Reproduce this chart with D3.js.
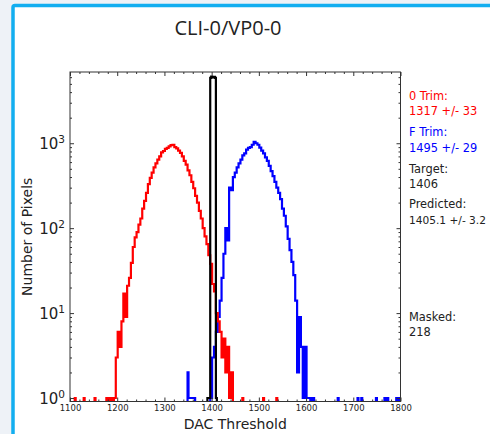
<!DOCTYPE html>
<html>
<head>
<meta charset="utf-8">
<script src="https://cdn.jsdelivr.net/npm/d3@7/dist/d3.min.js"></script>
<style>
  body { margin: 0; background: #eef2f7; }
  svg { display: block; }
</style>
</head>
<body>
<div id="chart"></div>
<script>
// axis ticks
let xTicks = [1100, 1200, 1300, 1400, 1500, 1600, 1700, 1800];
let yTicks = [1, 10, 100, 1000];

// histograms: counts per DAC unit, given as blocks of equal-width bins
let redStart = 1193, redWidth = 4;
let redCounts = [1, 3, 6, 4, 8, 17, 9, 21, 26, 39, 60, 78, 90, 110, 130, 170, 210, 260, 330, 390,
  450, 520, 580, 640, 700, 780, 810, 860, 880, 920, 950, 960, 900, 870, 820, 770, 700, 620, 560, 480,
  420, 350, 295, 240, 200, 160, 130, 100, 80, 65, 48, 38, 22, 18, 10, 8, 6, 3, 5, 2, 4, 1, 2];
let redSingles = [1110, 1129, 1152, 1177, 1181, 1187, 1465, 1509, 1537];

let blueStart = 1397, blueWidth = 4;
let blueCounts = [1, 3, 4, 6, 9, 14, 26, 50, 100, 72, 300, 280, 400, 450, 520, 580, 640, 720, 760, 840,
  880, 900, 960, 1040, 1000, 960, 890, 820, 760, 680, 620, 540, 470, 410, 350, 300, 260, 220, 170, 140,
  105, 75, 55, 40, 28, 14, 2, 9, 4, 1, 4, 1, 1, 0, 1];
let blueSideStart = 1349, blueSideWidth = 2;
let blueSideCounts = [2, 1, 1, 1, 1, 1, 1, 1];
let blueSingles = [1667, 1709, 1717, 1748, 1766, 1772, 1791, 1796];

let blackStart = 1391, blackWidth = 2;
let blackCounts = [1, 1, 1, 5900, 6100, 6000, 5950, 6050, 5900, 1];

// text on the right
let notes = [
  ['0 Trim:', 'red'], ['1317 +/- 33', 'red'],
  ['F Trim:', 'blue'], ['1495 +/- 29', 'blue'],
  ['Target:', 'black'], ['1406', 'black'],
  ['Predicted:', 'black'], ['1405.1 +/- 3.2', 'black'],
  ['Masked:', 'black'], ['218', 'black']
];
let noteY = [100, 115, 136, 152, 173, 188, 208, 224, 321, 336];

let width = 490, height = 434;
let plot = { left: 70, right: 400.5, top: 72, bottom: 401.5 };

let svg = d3.select('#chart').append('svg')
  .attr('width', width)
  .attr('height', height);

// page background and the blue card frame
svg.append('rect').attr('width', width).attr('height', height).attr('fill', '#eef2f7');
svg.append('rect')
  .attr('x', 13).attr('y', 5.5)
  .attr('width', 500).attr('height', 450)
  .attr('rx', 2)
  .attr('fill', 'white')
  .attr('stroke', '#12aef0')
  .attr('stroke-width', 3.5);

let xScale = d3.scaleLinear().domain([1100, 1800]).range([plot.left, plot.right]);
let yScale = d3.scaleLog().domain([0.91, 6900]).range([plot.bottom, plot.top]);

// expand bin blocks into one point per DAC unit
function dense(blocks) {
  let arr = new Array(701).fill(0);
  blocks.forEach(function(b) {
    b.counts.forEach(function(c, i) {
      for (let k = 0; k < b.width; k++) {
        let idx = b.start + i * b.width + k - 1100;
        if (idx >= 0 && idx <= 700) arr[idx] = c;
      }
    });
  });
  return arr.map(function(c, i) { return { x: 1100 + i, n: c }; });
}

function singles(list, w) {
  return list.map(function(s) { return { start: s, width: w, counts: [1] }; });
}

let redData = dense([{ start: redStart, width: redWidth, counts: redCounts }].concat(singles(redSingles, 2)));
let blueData = dense([
  { start: blueStart, width: blueWidth, counts: blueCounts },
  { start: blueSideStart, width: blueSideWidth, counts: blueSideCounts }
].concat(singles(blueSingles, 2)));
let blackData = dense([{ start: blackStart, width: blackWidth, counts: blackCounts }]);

svg.append('clipPath').attr('id', 'clip')
  .append('rect')
  .attr('x', plot.left).attr('y', plot.top)
  .attr('width', plot.right - plot.left).attr('height', plot.bottom - plot.top);

let line = d3.line()
  .x(function(d) { return xScale(d.x); })
  .y(function(d) { return d.n > 0 ? yScale(d.n) : plot.bottom + 20; })
  .curve(d3.curveStepAfter);

let lines = svg.append('g').attr('clip-path', 'url(#clip)');
[[blueData, 'blue'], [redData, 'red'], [blackData, 'black']].forEach(function(s) {
  lines.append('path')
    .datum(s[0])
    .attr('d', line)
    .attr('fill', 'none')
    .attr('stroke', s[1])
    .attr('stroke-width', 2.2);
});

// minor tick values
let xMinor = d3.range(1100, 1801, 20).filter(function(v) { return v % 100 != 0; });
let yMinor = [];
[1, 10, 100, 1000].forEach(function(d) {
  for (let m = 2; m <= 9; m++) if (d * m < 6900) yMinor.push(d * m);
});

function styleAxis(g) {
  g.select('.domain').remove();
  g.selectAll('line').attr('stroke', '#333');
}

// bottom axis with labels
svg.append('g')
  .attr('transform', `translate(0,${plot.bottom})`)
  .call(d3.axisBottom(xScale).tickValues(xTicks).tickSize(-4).tickPadding(3).tickFormat(d3.format('d')))
  .call(styleAxis)
  .selectAll('text')
  .style('font-family', 'DejaVu Sans')
  .style('font-size', '8.5px')
  .attr('fill', '#222');
svg.append('g')
  .attr('transform', `translate(0,${plot.bottom})`)
  .call(d3.axisBottom(xScale).tickValues(xMinor).tickSize(-2).tickFormat(''))
  .call(styleAxis);

// top axis, ticks only
svg.append('g')
  .attr('transform', `translate(0,${plot.top})`)
  .call(d3.axisTop(xScale).tickValues(xTicks).tickSize(-4).tickFormat(''))
  .call(styleAxis);
svg.append('g')
  .attr('transform', `translate(0,${plot.top})`)
  .call(d3.axisTop(xScale).tickValues(xMinor).tickSize(-2).tickFormat(''))
  .call(styleAxis);

// left axis with 10^n labels
let yAxisLeft = svg.append('g')
  .attr('transform', `translate(${plot.left},0)`)
  .call(d3.axisLeft(yScale).tickValues(yTicks).tickSize(-4).tickPadding(5).tickFormat(''))
  .call(styleAxis);
yAxisLeft.selectAll('.tick text').each(function(d) {
  let t = d3.select(this)
    .attr('dy', '0.36em')
    .style('font-family', 'DejaVu Sans')
    .style('font-size', '15px')
    .attr('fill', '#222');
  t.append('tspan').text('10');
  t.append('tspan')
    .attr('dy', '-0.55em')
    .style('font-size', '10.5px')
    .text(Math.round(Math.log10(d)));
});
svg.append('g')
  .attr('transform', `translate(${plot.left},0)`)
  .call(d3.axisLeft(yScale).tickValues(yMinor).tickSize(-2).tickFormat(''))
  .call(styleAxis);

// right axis, ticks only
svg.append('g')
  .attr('transform', `translate(${plot.right},0)`)
  .call(d3.axisRight(yScale).tickValues(yTicks).tickSize(-4).tickFormat(''))
  .call(styleAxis);
svg.append('g')
  .attr('transform', `translate(${plot.right},0)`)
  .call(d3.axisRight(yScale).tickValues(yMinor).tickSize(-2).tickFormat(''))
  .call(styleAxis);

// plot frame
svg.append('rect')
  .attr('x', plot.left).attr('y', plot.top)
  .attr('width', plot.right - plot.left).attr('height', plot.bottom - plot.top)
  .attr('fill', 'none')
  .attr('stroke', '#333')
  .attr('stroke-width', 1);

// title and axis labels
svg.append('text')
  .attr('x', 228).attr('y', 35)
  .attr('text-anchor', 'middle')
  .style('font-family', 'Open Sans')
  .style('font-size', '20px')
  .attr('fill', '#222')
  .text('CLI-0/VP0-0');

svg.append('text')
  .attr('x', (plot.left + plot.right) / 2).attr('y', 429)
  .attr('text-anchor', 'middle')
  .style('font-family', 'DejaVu Sans')
  .style('font-size', '14px')
  .attr('fill', '#222')
  .text('DAC Threshold');

svg.append('text')
  .attr('transform', `translate(32,${(plot.top + plot.bottom) / 2}) rotate(-90)`)
  .attr('text-anchor', 'middle')
  .style('font-family', 'DejaVu Sans')
  .style('font-size', '14px')
  .attr('fill', '#222')
  .text('Number of Pixels');

// side notes
svg.selectAll('.note')
  .data(notes)
  .enter()
  .append('text')
  .attr('class', 'note')
  .attr('x', 409)
  .attr('y', function(d, i) { return noteY[i]; })
  .style('font-family', 'DejaVu Sans')
  .style('font-size', function(d) { return d[0].length > 12 ? '10.6px' : '11.4px'; })
  .attr('fill', function(d) { return d[1] == 'black' ? '#222' : d[1]; })
  .text(function(d) { return d[0]; });
</script>
</body>
</html>
